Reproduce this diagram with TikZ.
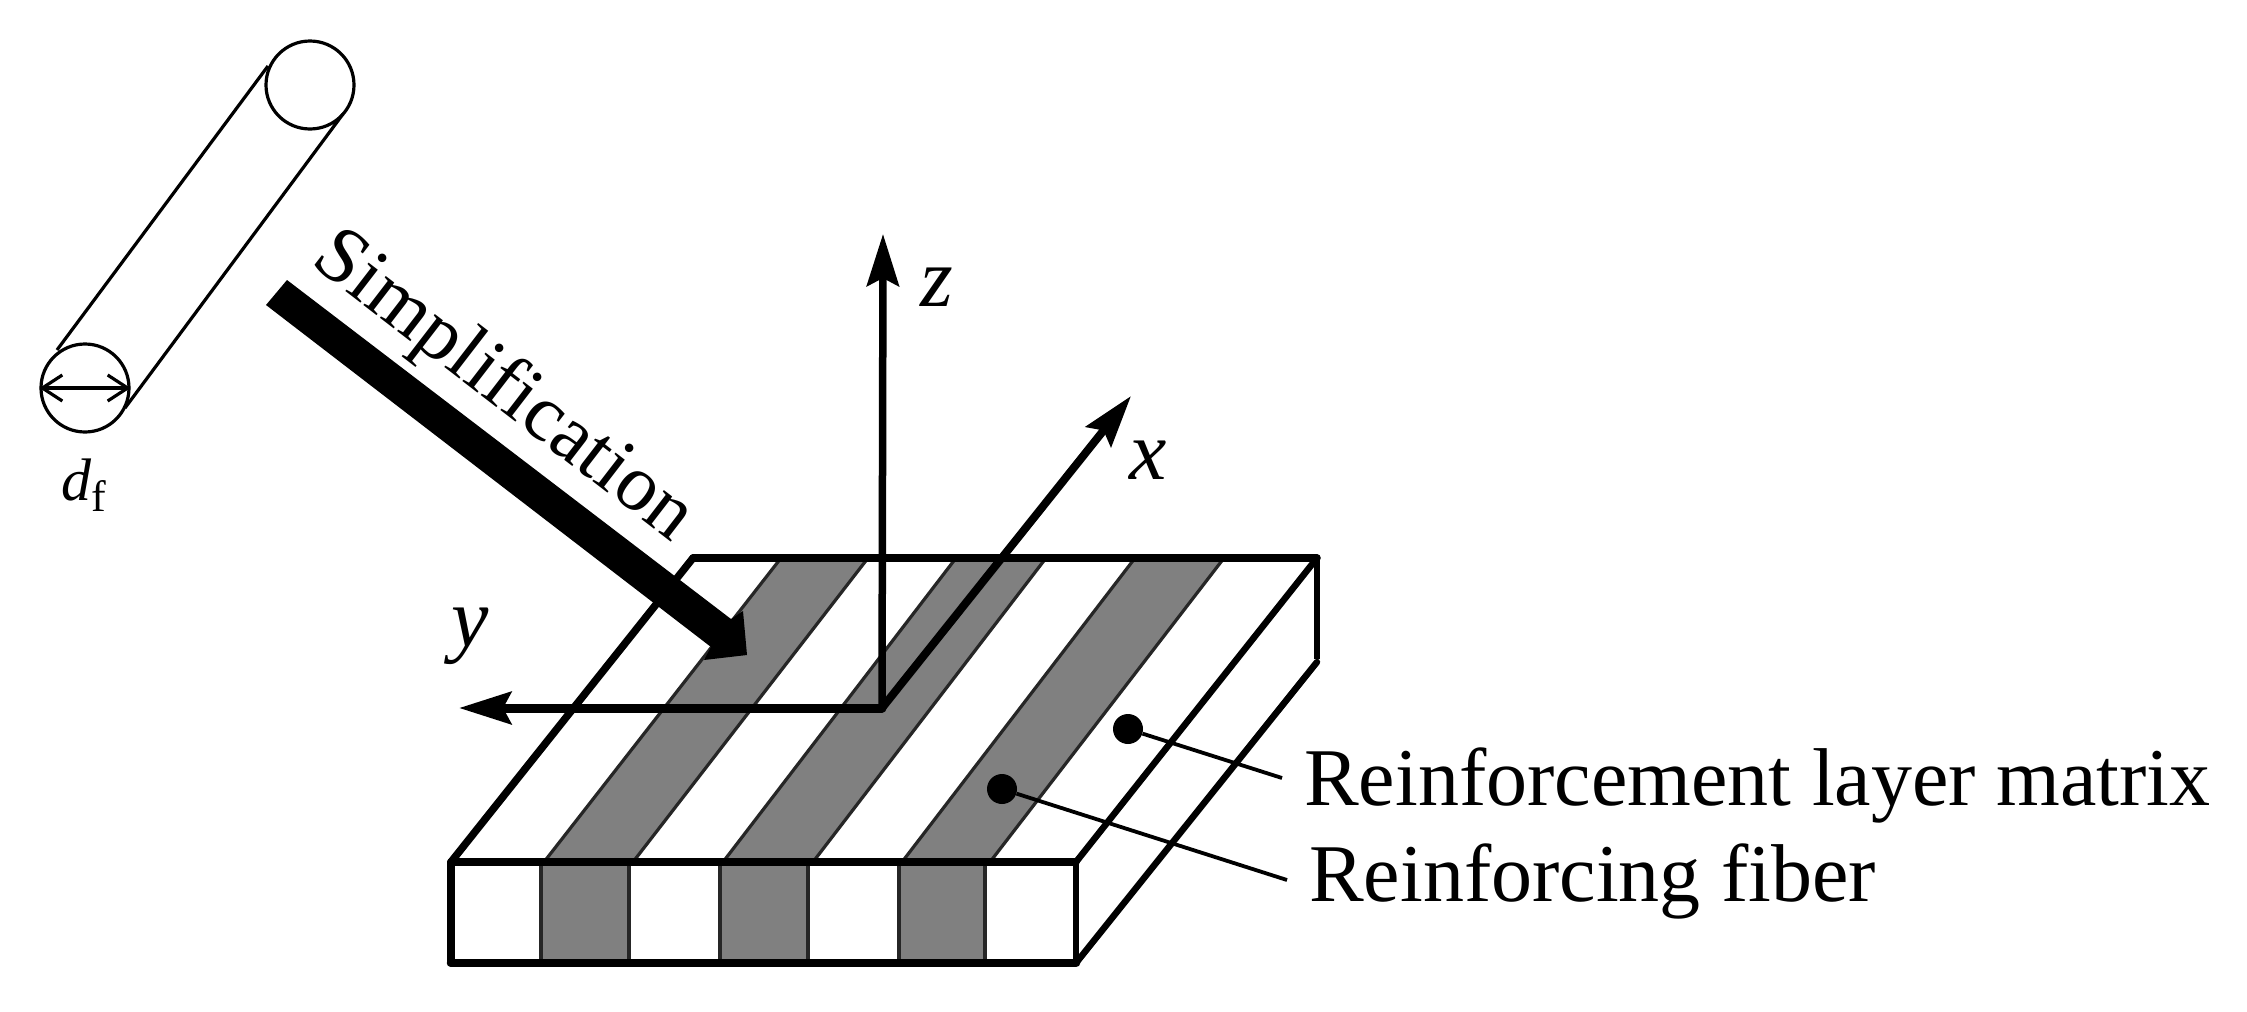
\documentclass[tikz,border=0pt]{standalone}
\usepackage{fontspec}
\setmainfont{Liberation Serif}
\usetikzlibrary{arrows.meta}
\definecolor{stripegray}{gray}{0.5}
\definecolor{stripeedge}{gray}{0.15}
\tikzset{
  thin line/.style={draw=black,line width=3.2pt},
  edgethick/.style={draw=black,line width=7.5pt,line cap=round,line join=miter},
  edgemid/.style={draw=black,line width=5.5pt,line cap=butt},
  stripe/.style={fill=stripegray,draw=stripeedge,line width=3.2pt},
  axis/.style={draw=black,line width=7.5pt,-{Stealth[length=52pt,width=32pt,inset=8pt]}},
  leader/.style={draw=black,line width=3.8pt},
  dotmark/.style={circle,fill=black,draw=none,minimum size=30pt,inner sep=0pt},
  biglabel/.style={inner sep=0pt,font=\fontsize{82}{90}\selectfont},
  smalllabel/.style={inner sep=0pt,font=\fontsize{60}{66}\selectfont}
}
\begin{document}
\begin{tikzpicture}[x=1pt,y=-1pt]
\useasboundingbox (0,0) rectangle (2247,1012);
\fill[white] (0,0) rectangle (2247,1012);

% cylinder
\coordinate (cylTop) at (310,85);
\coordinate (cylBot) at (85,388);
\node[draw=black,line width=3.2pt,circle,minimum size=88pt,inner sep=0pt] (topc) at (cylTop) {};
\node[draw=black,line width=3.2pt,circle,minimum size=88pt,inner sep=0pt] (botc) at (cylBot) {};
\draw[thin line] (57,350) -- (268,66);
\draw[thin line] (125,408) -- (343,114);
\draw[thin line,{Straight Barb[length=20pt,width=26pt]}-{Straight Barb[length=20pt,width=26pt]}] (botc.west) -- (botc.east);
\node[smalllabel,anchor=base west] (dlab) at (61,500) {\textit{d}\raisebox{-11pt}{\fontsize{44}{48}\selectfont f}};

% box corners
\coordinate (FL) at (451,862);
\coordinate (FR) at (1076,862);
\coordinate (BL) at (693,558);
\coordinate (BR) at (1317,558);
\coordinate (BFL) at (451,963);
\coordinate (BFR) at (1076,963);
\coordinate (BBR) at (1317,662);
\coordinate (BRe) at (1317,659);

% stripes top
\path[stripe] (544,862) -- (781,558) -- (868,558) -- (633,862) -- cycle;
\path[stripe] (723,862) -- (956,558) -- (1046,558) -- (813,862) -- cycle;
\path[stripe] (902,862) -- (1135,558) -- (1224,558) -- (990,862) -- cycle;
% stripes front
\path[stripe] (541,862) rectangle (629,963);
\path[stripe] (720,862) rectangle (808,963);
\path[stripe] (899,862) rectangle (985,963);

% box edges
\draw[edgethick] (BL) -- (BR);
\draw[edgethick] (FL) -- (FR);
\draw[edgethick,line width=8.5pt] (BFL) -- (BFR);
\draw[edgethick] (FL) -- (BFL);
\draw[edgethick] (FL) -- (BL);
\draw[edgemid] (FR) -- (BFR);
\draw[edgemid] (BR) -- (BRe);
\draw[edgethick,line width=6.5pt] (FR) -- (BR);
\draw[edgethick,line width=6.5pt] (BFR) -- (BBR);

% leaders
\node[dotmark] (dot1) at (1128,729) {};
\node[dotmark] (dot2) at (1002,789) {};
\coordinate (lead1) at (1282,778);
\coordinate (lead2) at (1287,880);
\draw[leader] (dot1) -- (lead1);
\draw[leader] (dot2) -- (lead2);
\node[biglabel,anchor=base west] (lab1) at (1304,805) {Reinforcement layer matrix};
\node[biglabel,anchor=base west] (lab2) at (1309,901) {Reinforcing fiber};

% axes
\coordinate (origin) at (882,708);
\coordinate (ztip) at (883,234);
\coordinate (xtip) at (1131,396);
\coordinate (ytip) at (459,708);
\draw[axis,line cap=round] (origin) -- (ztip);
\draw[axis,line cap=round,line width=8pt] (origin) -- (xtip);
\draw[axis,line cap=round,line width=9pt] (origin) -- (ytip);
\node[biglabel,font=\fontsize{84}{90}\selectfont\itshape] (zlab) at (937,287) {z};
\node[biglabel,font=\fontsize{84}{90}\selectfont\itshape] (xlab) at (1148,460) {x};
\node[biglabel,font=\fontsize{84}{90}\selectfont\itshape] (ylab) at (470,636) {y};

% simplification arrow
\fill[black] (287,280) -- (731,619) -- (743,611) -- (747,655) -- (704,660) -- (711,647) -- (266,305) -- cycle;
\node[biglabel,font=\fontsize{80}{90}\selectfont,anchor=base,rotate=-37.6] (simp) at (491,403) {Simplification};
\end{tikzpicture}
\end{document}
